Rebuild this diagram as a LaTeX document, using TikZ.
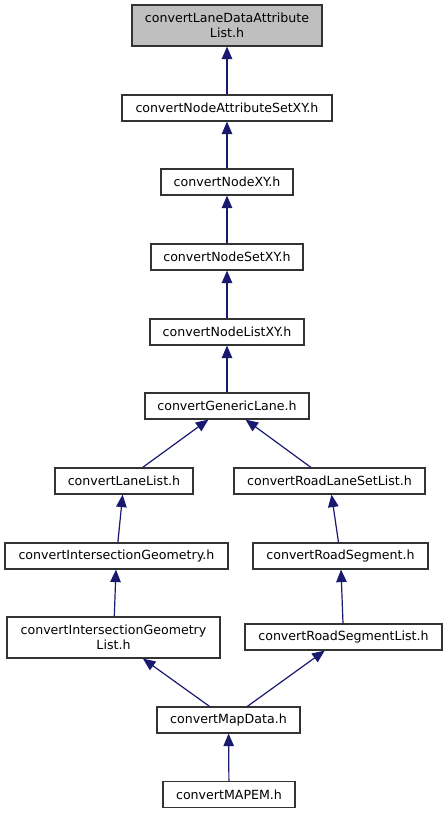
\documentclass[tikz,border=0pt]{standalone}
\usepackage{fontspec}
\setmainfont{DejaVu Sans}
\usetikzlibrary{arrows.meta}
\definecolor{edgeblue}{HTML}{191970}
\definecolor{boxborder}{HTML}{333333}
\definecolor{topfill}{HTML}{BFBFBF}
\tikzset{
  filebox/.style={draw=boxborder, line width=1.2pt, fill=white, inner sep=0pt,
    minimum height=26pt, align=center, font=\fontsize{12.6}{15}\selectfont},
  edge/.style={draw=edgeblue, line width=1.2pt, -{Triangle[length=12.5pt,width=10.5pt]}}
}
\begin{document}
\begin{tikzpicture}[x=1pt,y=-1pt]
\useasboundingbox (0,0) rectangle (447,813);
\node[filebox, fill=topfill, minimum width=190pt, minimum height=41pt] (top) at (227,25.5) {convertLaneDataAttribute\\List.h};
\node[filebox, minimum width=210pt] (nas) at (227,108) {convertNodeAttributeSetXY.h};
\node[filebox, minimum width=132pt] (nxy) at (227,182) {convertNodeXY.h};
\node[filebox, minimum width=152pt] (nsxy) at (227,257) {convertNodeSetXY.h};
\node[filebox, minimum width=154pt] (nlxy) at (227,332) {convertNodeListXY.h};
\node[filebox, minimum width=164pt] (gl) at (227,406) {convertGenericLane.h};
\node[filebox, minimum width=138pt] (ll) at (124,481) {convertLaneList.h};
\node[filebox, minimum width=191pt] (rlsl) at (329.5,481) {convertRoadLaneSetList.h};
\node[filebox, minimum width=223pt] (ig) at (116.5,556) {convertIntersectionGeometry.h};
\node[filebox, minimum width=175pt] (rs) at (340.5,556) {convertRoadSegment.h};
\node[filebox, minimum width=213pt, minimum height=41pt] (igl) at (113.5,637.5) {convertIntersectionGeometry\\List.h};
\node[filebox, minimum width=197pt] (rsl) at (343.5,637) {convertRoadSegmentList.h};
\node[filebox, minimum width=143pt] (md) at (228.5,720) {convertMapData.h};
\node[filebox, minimum width=132pt] (mapem) at (229,794.5) {convertMAPEM.h};
\draw[edge] (nas) -- (top);
\draw[edge] (nxy) -- (nas);
\draw[edge] (nsxy) -- (nxy);
\draw[edge] (nlxy) -- (nsxy);
\draw[edge] (gl) -- (nlxy);
\draw[edge] (ll) -- (gl);
\draw[edge] (rlsl) -- (gl);
\draw[edge] (ig) -- (ll);
\draw[edge] (rs) -- (rlsl);
\draw[edge] (igl) -- (ig);
\draw[edge] (rsl) -- (rs);
\draw[edge] (md) -- (igl);
\draw[edge] (md) -- (rsl);
\draw[edge] (mapem) -- (md);
\end{tikzpicture}
\end{document}
